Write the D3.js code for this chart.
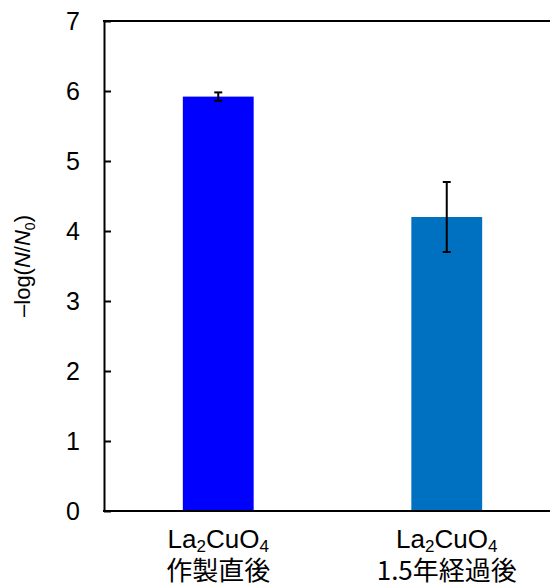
<!DOCTYPE html>
<html>
<head>
<meta charset="utf-8">
<script src="https://cdn.jsdelivr.net/npm/d3@7"></script>
<style>
  body { margin: 0; background: #fff; }
  svg { display: block; font-family: "Liberation Sans", Arial, "Noto Sans CJK JP", sans-serif; }
</style>
</head>
<body>
<svg id="chart" width="550" height="587"></svg>
<script>
// data
const categories = ['作製直後', '1.5年経過後']
const values = [5.92, 4.2]
const errors = [0.06, 0.5]
const colors = ['#0000FF', '#0070C0']
const yTicks = [0, 1, 2, 3, 4, 5, 6, 7]

const svg = d3.select('#chart')
const margin = { left: 104, top: 21, right: -11, bottom: 76 }
const W = 550, H = 587

const x = d3.scaleBand().domain(categories)
  .range([margin.left, W - margin.right]).paddingInner(0.69).paddingOuter(0.345)
const y = d3.scaleLinear().domain([0, 7]).range([H - margin.bottom, margin.top])

// bars
svg.selectAll('.bar').data(categories).enter().append('rect')
  .attr('class', 'bar')
  .attr('x', d => x(d))
  .attr('width', x.bandwidth())
  .attr('y', (d, i) => y(values[i]))
  .attr('height', (d, i) => y(0) - y(values[i]))
  .attr('fill', (d, i) => colors[i])

// error bars
const cx = d => x(d) + x.bandwidth() / 2
const eb = svg.selectAll('.err').data(categories).enter().append('g')
  .attr('class', 'err')
  .attr('stroke', '#000').attr('stroke-width', 2)
eb.append('line')
  .attr('x1', cx).attr('x2', cx)
  .attr('y1', (d, i) => y(values[i] + errors[i])).attr('y2', (d, i) => y(values[i] - errors[i]))
eb.append('line')
  .attr('x1', d => cx(d) - 4).attr('x2', d => cx(d) + 4)
  .attr('y1', (d, i) => y(values[i] + errors[i])).attr('y2', (d, i) => y(values[i] + errors[i]))
eb.append('line')
  .attr('x1', d => cx(d) - 4).attr('x2', d => cx(d) + 4)
  .attr('y1', (d, i) => y(values[i] - errors[i])).attr('y2', (d, i) => y(values[i] - errors[i]))

// y axis with inside ticks
const yAxis = svg.append('g')
  .attr('transform', `translate(${margin.left},0)`)
  .call(d3.axisLeft(y).tickValues(yTicks).tickFormat(d3.format('d'))
    .tickSize(-7).tickPadding(24).tickSizeOuter(0))
yAxis.select('.domain').attr('stroke-width', 2)
yAxis.selectAll('.tick line').attr('stroke-width', 2)
yAxis.selectAll('.tick text').attr('font-size', 25).attr('fill', '#000')
  .attr('font-family', '"Liberation Sans", Arial, sans-serif')

// top frame line
svg.append('line')
  .attr('x1', margin.left - 1).attr('x2', W)
  .attr('y1', y(7)).attr('y2', y(7))
  .attr('stroke', '#000').attr('stroke-width', 2)

// x axis baseline
svg.append('line')
  .attr('x1', margin.left - 1).attr('x2', W)
  .attr('y1', y(0)).attr('y2', y(0))
  .attr('stroke', '#000').attr('stroke-width', 2)

// category labels: chemical formula line + Japanese line
const lab = svg.selectAll('.cat').data(categories).enter().append('g')
  .attr('class', 'cat')
  .attr('transform', d => `translate(${cx(d)},0)`)
lab.append('text')
  .attr('text-anchor', 'middle').attr('font-size', 26).attr('fill', '#000')
  .attr('y', 548)
  .html('La<tspan font-size="17" dy="4">2</tspan><tspan dy="-4">CuO</tspan><tspan font-size="17" dy="4">4</tspan>')
lab.append('text')
  .attr('text-anchor', 'middle').attr('font-size', 26).attr('fill', '#000')
  .attr('y', 580)
  .attr('font-family', '"Noto Sans CJK JP", sans-serif')
  .text(d => d)

// y axis title
const yt = svg.append('text')
  .attr('transform', `translate(30,${(y(0) + y(7)) / 2}) rotate(-90)`)
  .attr('text-anchor', 'middle')
  .attr('font-size', 22)
  .attr('fill', '#000')
yt.append('tspan').text('\u2013log(')
yt.append('tspan').text('N').attr('font-style', 'italic')
yt.append('tspan').text('/')
yt.append('tspan').text('N').attr('font-style', 'italic')
yt.append('tspan').text('0').attr('font-size', 14).attr('dy', 5)
yt.append('tspan').text(')').attr('dy', -5)
</script>
</body>
</html>
